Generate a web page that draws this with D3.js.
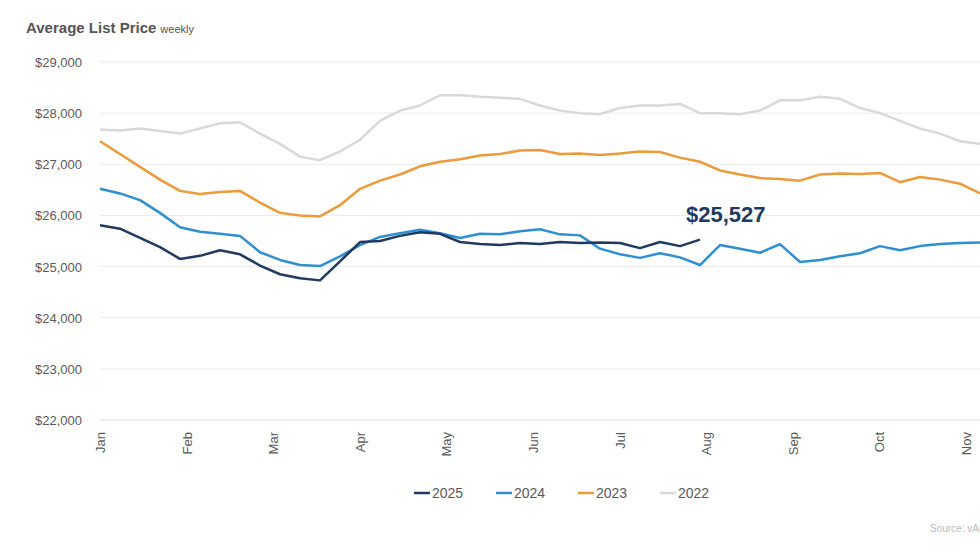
<!DOCTYPE html>
<html>
<head>
<meta charset="utf-8">
<script src="https://cdn.jsdelivr.net/npm/d3@7"></script>
<style>
  body { margin: 0; background: #fff; font-family: "Liberation Sans", Arial, sans-serif; }
</style>
</head>
<body>
<svg id="chart"></svg>
<script>
const months = ['Jan', 'Feb', 'Mar', 'Apr', 'May', 'Jun', 'Jul', 'Aug', 'Sep', 'Oct', 'Nov', 'Dec'];
const yTicks = [22000, 23000, 24000, 25000, 26000, 27000, 28000, 29000];

const s2022 = [27680, 27660, 27700, 27650, 27600, 27700, 27800, 27820, 27600, 27400, 27150, 27080, 27250, 27480, 27850, 28050, 28150, 28350, 28350, 28320, 28300, 28280, 28150, 28050, 28000, 27980, 28100, 28150, 28150, 28180, 28000, 28000, 27980, 28050, 28250, 28250, 28320, 28280, 28100, 28000, 27850, 27700, 27600, 27450, 27400];
const s2023 = [27450, 27200, 26950, 26700, 26480, 26420, 26460, 26480, 26250, 26050, 26000, 25980, 26200, 26520, 26680, 26800, 26960, 27050, 27100, 27170, 27200, 27270, 27280, 27200, 27210, 27180, 27210, 27250, 27240, 27130, 27050, 26880, 26800, 26730, 26710, 26680, 26800, 26820, 26810, 26830, 26650, 26750, 26700, 26620, 26430];
const s2024 = [26520, 26430, 26300, 26050, 25770, 25680, 25640, 25600, 25280, 25130, 25030, 25010, 25200, 25420, 25580, 25650, 25720, 25650, 25560, 25640, 25630, 25690, 25730, 25630, 25610, 25350, 25240, 25170, 25260, 25180, 25030, 25420, 25350, 25270, 25440, 25090, 25130, 25200, 25260, 25400, 25320, 25400, 25440, 25460, 25470];
const s2025 = [25810, 25740, 25560, 25380, 25150, 25210, 25320, 25240, 25020, 24850, 24770, 24730, 25100, 25480, 25500, 25600, 25670, 25640, 25480, 25440, 25420, 25460, 25440, 25480, 25460, 25470, 25460, 25360, 25480, 25400, 25527];

const series = [
  { name: '2022', values: s2022, color: '#d9d9d9' },
  { name: '2023', values: s2023, color: '#ec9a3a' },
  { name: '2024', values: s2024, color: '#2f8fd0' },
  { name: '2025', values: s2025, color: '#203a60' }
];
const legendOrder = ['2025', '2024', '2023', '2022'];

const width = 980, height = 552;
const svg = d3.select('#chart').attr('width', width).attr('height', height);

// 20px per week, months ~86.6px apart
const x = d3.scaleLinear().domain([0, 44]).range([100, 980]);
const xMonth = d3.scaleLinear().domain([0, 12]).range([100, 100 + 86.6 * 12]);
const y = d3.scaleLinear().domain([22000, 29000]).range([420, 62]);

svg.append('text')
  .attr('x', 26).attr('y', 33)
  .attr('font-size', 15).attr('font-weight', 'bold').attr('fill', '#555')
  .text('Average List Price')
  .append('tspan').attr('font-weight', 'normal').attr('font-size', 11).attr('dx', 4).text('weekly');

// Gridlines
svg.append('g').selectAll('line').data(yTicks).enter().append('line')
  .attr('x1', 100).attr('x2', width)
  .attr('y1', d => y(d)).attr('y2', d => y(d))
  .attr('stroke', d => d === 22000 ? '#d9d9d9' : '#ebebeb').attr('stroke-width', 1);

svg.append('g').selectAll('text').data(yTicks).enter().append('text')
  .attr('x', 82).attr('y', d => y(d) + 5)
  .attr('text-anchor', 'end').attr('font-size', 13).attr('fill', '#595959')
  .text(d => d3.format('$,')(d));

// Month labels
svg.append('g').selectAll('text').data(months.slice(0, 11)).enter().append('text')
  .attr('transform', (d, i) => `translate(${xMonth(i) + 5},432) rotate(-90)`)
  .attr('text-anchor', 'end').attr('font-size', 13).attr('fill', '#595959')
  .text(d => d);

const line = d3.line().x((d, i) => x(i)).y(d => y(d));

series.forEach(s => {
  svg.append('path')
    .attr('d', line(s.values))
    .attr('fill', 'none').attr('stroke', s.color).attr('stroke-width', 2.5)
    .attr('stroke-linejoin', 'round');
});

// Last value annotation
const last = s2025[s2025.length - 1];
svg.append('text')
  .attr('x', x(s2025.length - 1) - 14).attr('y', y(last) - 18)
  .attr('font-size', 22).attr('font-weight', 'bold').attr('fill', '#203a60')
  .text(d3.format('$,')(last));

// Legend
const legend = svg.append('g').attr('transform', 'translate(414,493)');
legendOrder.forEach((name, i) => {
  const s = series.find(d => d.name === name);
  const g = legend.append('g').attr('transform', `translate(${i * 82},0)`);
  g.append('line').attr('x1', 0).attr('x2', 16).attr('y1', 0).attr('y2', 0)
    .attr('stroke', s.color).attr('stroke-width', 2.5);
  g.append('text').attr('x', 18).attr('y', 5).attr('font-size', 14).attr('fill', '#595959').text(name);
});

svg.append('text')
  .attr('x', 930).attr('y', 532).attr('font-size', 10).attr('fill', '#bbb')
  .text('Source: vAuto');
</script>
</body>
</html>
